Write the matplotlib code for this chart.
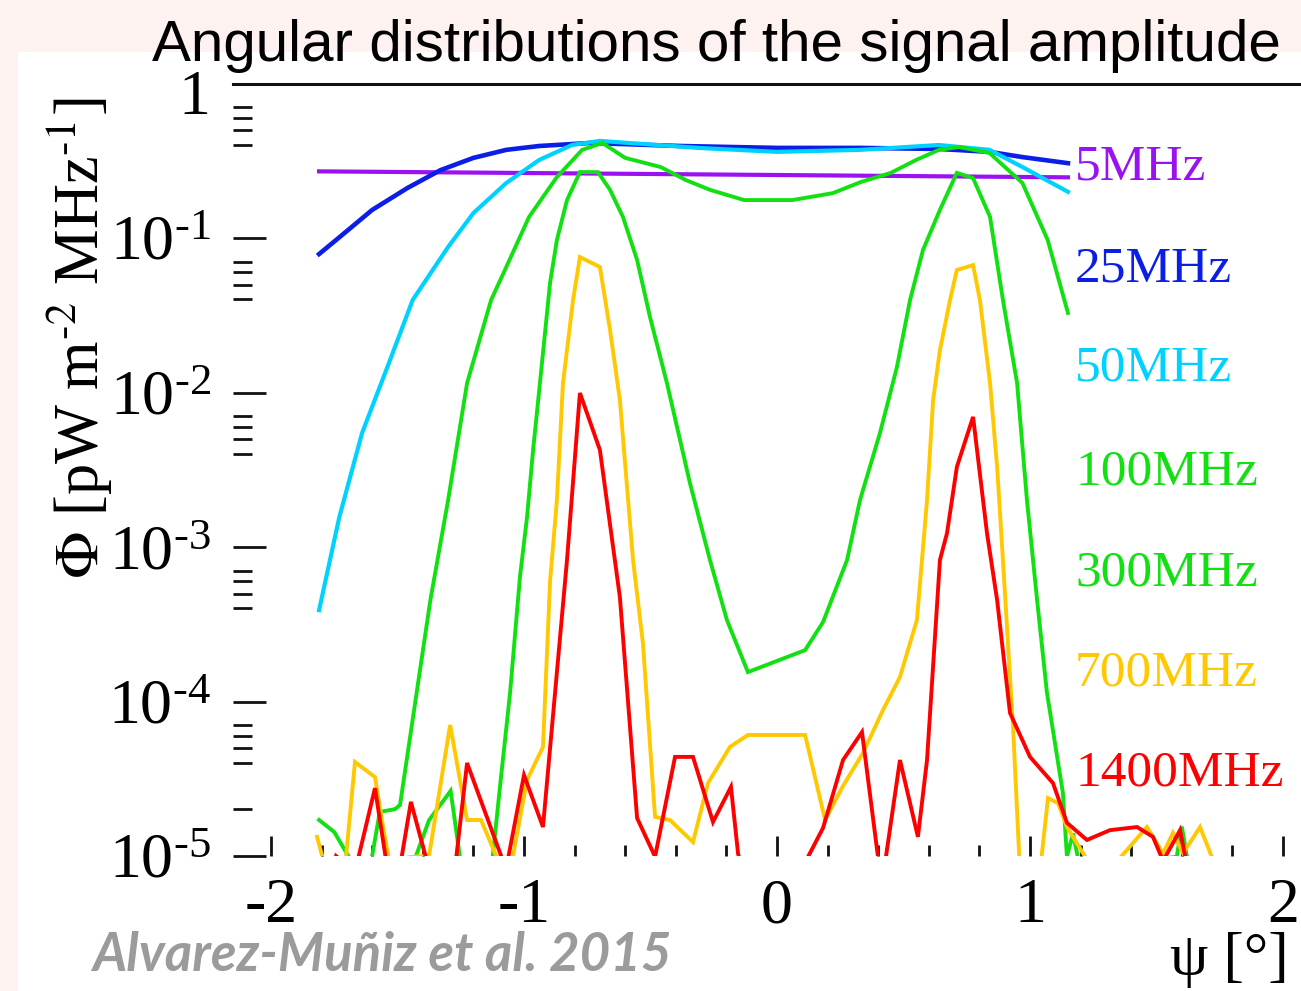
import matplotlib
matplotlib.use("Agg")
import matplotlib.pyplot as plt
from matplotlib.patches import Rectangle
from matplotlib.ticker import NullFormatter
from matplotlib.transforms import ScaledTranslation

# ---------------------------------------------------------------- data
# angle psi [deg] and flux Phi [pW m^-2 MHz^-1] for each frequency

psi_5 = [-1.81, 1.15]
phi_5 = [0.270, 0.247]

psi_25 = [-1.81, -1.73, -1.60, -1.46, -1.33, -1.20, -1.07, -0.94, -0.74,
          -0.38, 0.00, 0.33, 0.64, 0.84, 0.97, 1.15]
phi_25 = [0.0787, 0.101, 0.152, 0.211, 0.275, 0.330, 0.372, 0.394, 0.412,
          0.394, 0.383, 0.383, 0.377, 0.361, 0.334, 0.305]

psi_50 = [-1.81, -1.73, -1.64, -1.54, -1.44, -1.30, -1.20, -1.07, -0.94,
          -0.81, -0.70, -0.30, 0.00, 0.33, 0.64, 0.84, 0.97, 1.15]
phi_50 = [3.9e-4, 1.56e-3, 5.47e-3, 1.46e-2, 3.97e-2, 8.75e-2, 0.145, 0.227,
          0.320, 0.400, 0.425, 0.382, 0.361, 0.372, 0.400, 0.372, 0.288, 0.199]

psi_100 = [-1.81, -1.75, -1.68, -1.61, -1.57, -1.51, -1.49, -1.37, -1.30,
           -1.225, -1.13, -1.07, -0.98, -0.87, -0.77, -0.69, -0.60, -0.46,
           -0.36, -0.265, -0.13, 0.06, 0.22, 0.33, 0.45, 0.55, 0.64, 0.72,
           0.84, 0.97, 1.07, 1.15]
phi_100 = [1.71e-5, 1.43e-5, 9.1e-6, 8.1e-6, 1.93e-5, 2.01e-5, 2.14e-5,
           4.54e-4, 2.01e-3, 1.15e-2, 3.97e-2, 6.49e-2, 0.137, 0.248, 0.372,
           0.412, 0.330, 0.288, 0.237, 0.205, 0.176, 0.176, 0.195, 0.230,
           0.264, 0.320, 0.372, 0.388, 0.355, 0.227, 0.0970, 0.0327]

psi_300 = [-1.81, -1.61, -1.45, -1.375, -1.29, -1.245, -1.17, -1.13, -1.095,
           -1.055, -1.016, -0.988, -0.964, -0.937, -0.897, -0.870, -0.830,
           -0.779, -0.708, -0.660, -0.609, -0.553, -0.502, -0.435, -0.344,
           -0.265, -0.198, -0.115, 0.111, 0.182, 0.277, 0.328, 0.407, 0.474,
           0.526, 0.577, 0.644, 0.711, 0.775, 0.842, 0.893, 0.949, 0.988,
           1.028, 1.067, 1.130, 1.146, 1.17, 1.20, 1.58, 1.60, 1.63]
phi_300 = [5.2e-6, 5.2e-6, 7.9e-6, 1.71e-5, 2.64e-5, 7.9e-6, 6.9e-6, 7.9e-6,
           2.80e-5, 1.14e-4, 6.40e-4, 1.56e-3, 4.25e-3, 1.15e-2, 5.12e-2,
           9.70e-2, 0.176, 0.267, 0.267, 0.205, 0.137, 7.21e-2, 3.08e-2,
           1.15e-2, 2.59e-3, 8.24e-4, 3.37e-4, 1.55e-4, 2.15e-4, 3.27e-4,
           8.24e-4, 2.01e-3, 5.47e-3, 1.46e-2, 3.97e-2, 8.36e-2, 0.152, 0.264,
           0.244, 0.137, 3.97e-2, 1.15e-2, 2.01e-3, 4.54e-4, 1.14e-4, 2.56e-5,
           9.9e-6, 1.4e-5, 8.0e-6, 9.9e-6, 1.55e-5, 8.0e-6]

psi_700 = [-1.818, -1.791, -1.708, -1.668, -1.589, -1.557, -1.530, -1.502,
           -1.458, -1.375, -1.292, -1.225, -1.170, -1.111, -1.055, -0.988,
           -0.925, -0.897, -0.870, -0.846, -0.806, -0.779, -0.700, -0.660,
           -0.621, -0.569, -0.530, -0.482, -0.423, -0.332, -0.273, -0.186,
           -0.115, 0.111, 0.190, 0.261, 0.340, 0.419, 0.486, 0.553, 0.593,
           0.617, 0.644, 0.684, 0.711, 0.775, 0.802, 0.842, 0.870, 0.893,
           0.933, 0.960, 1.040, 1.071, 1.111, 1.146, 1.277, 1.462, 1.526,
           1.565, 1.605, 1.672, 1.739]
phi_700 = [1.33e-5, 9.1e-6, 8.3e-6, 4.06e-5, 3.24e-5, 1.54e-5, 8.7e-6, 7.9e-6,
           9.8e-6, 1.01e-5, 7.05e-5, 1.71e-5, 1.71e-5, 1.01e-5, 7.9e-6,
           3.10e-5, 5.08e-5, 6.0e-4, 2.01e-3, 1.15e-2, 3.97e-2, 7.53e-2,
           6.49e-2, 2.54e-2, 8.93e-3, 8.24e-4, 2.39e-4, 1.79e-5, 1.71e-5,
           1.23e-5, 2.96e-5, 5.08e-5, 6.07e-5, 6.07e-5, 1.71e-5, 2.84e-5,
           4.65e-5, 8.81e-5, 1.44e-4, 3.37e-4, 2.01e-3, 8.93e-3, 1.88e-2,
           3.97e-2, 6.21e-2, 6.68e-2, 3.97e-2, 1.15e-2, 3.30e-3, 8.24e-4,
           6.84e-5, 8.1e-6, 8.1e-6, 2.37e-5, 2.20e-5, 1.54e-5, 6.9e-6, 1.54e-5,
           1.04e-5, 1.41e-5, 1.04e-5, 1.54e-5, 8.1e-6]

psi_1400 = [-1.814, -1.763, -1.743, -1.668, -1.589, -1.542, -1.502, -1.447,
            -1.375, -1.281, -1.225, -1.071, -1.000, -0.925, -0.830, -0.779,
            -0.700, -0.621, -0.553, -0.482, -0.403, -0.332, -0.253, -0.182,
            -0.154, -0.107, 0.071, 0.123, 0.182, 0.261, 0.336, 0.399, 0.423,
            0.486, 0.557, 0.593, 0.644, 0.672, 0.711, 0.775, 0.830, 0.870,
            0.921, 1.000, 1.091, 1.146, 1.225, 1.316, 1.423, 1.486, 1.526,
            1.593, 1.632]
phi_1400 = [6.9e-6, 7.9e-6, 1.0e-5, 7.9e-6, 2.75e-5, 8.7e-6, 6.5e-6, 2.24e-5,
            8.2e-6, 6.3e-6, 4.00e-5, 8.2e-6, 3.34e-5, 1.54e-5, 8.24e-4,
            9.93e-3, 4.25e-3, 4.74e-4, 1.76e-5, 9.9e-6, 4.38e-5, 4.38e-5,
            1.66e-5, 2.80e-5, 1.04e-5, 5.1e-6, 5.1e-6, 9.9e-6, 1.52e-5,
            4.18e-5, 6.34e-5, 9.9e-6, 8.1e-6, 4.18e-5, 1.33e-5, 4.18e-5,
            8.24e-4, 1.23e-3, 3.30e-3, 6.95e-3, 1.23e-3, 4.54e-4, 8.43e-5,
            4.38e-5, 2.96e-5, 1.64e-5, 1.27e-5, 1.47e-5, 1.54e-5, 1.33e-5,
            9.3e-6, 1.47e-5, 6.9e-6]

series_labels = ["5MHz", "25MHz", "50MHz", "100MHz", "300MHz", "700MHz", "1400MHz"]
series_colors = ["#9a12f2", "#0a1ee8", "#00d2ff", "#12e012", "#12e012",
                 "#ffc800", "#ff0000"]

x_tick_values = [-2, -1, 0, 1, 2]
x_tick_labels = ["-2", "-1", "0", "1", "2"]
y_tick_values = [1e-5, 1e-4, 1e-3, 1e-2, 1e-1, 1]
y_tick_labels = ["$\\mathregular{10^{\u20105}}$", "$\\mathregular{10^{\u20104}}$",
                 "$\\mathregular{10^{\u20103}}$", "$\\mathregular{10^{\u20102}}$",
                 "$\\mathregular{10^{\u20101}}$", "1"]

# ---------------------------------------------------------------- style
W, H = 1301, 991
plt.rcParams["font.family"] = ["Liberation Serif", "DejaVu Serif"]
plt.rcParams["mathtext.fontset"] = "stix"


def fx(px):
    return px / W


def fy(py):
    return 1 - py / H


fig = plt.figure(figsize=(W / 100, H / 100), dpi=100)
fig.patch.set_facecolor("#fdf2ef")
fig.patches.append(Rectangle((fx(18), 0), 1, fy(52), transform=fig.transFigure,
                             facecolor="white", edgecolor="none", zorder=-10))

ax = fig.add_axes([fx(233), fy(856), 1 - fx(233), fy(83.5) - fy(856)])
ax.set_facecolor("white")
ax.set_zorder(2)

curves = [(psi_5, phi_5), (psi_25, phi_25), (psi_50, phi_50),
          (psi_100, phi_100), (psi_300, phi_300), (psi_700, phi_700),
          (psi_1400, phi_1400)]
widths = [3.0, 3.3, 3.0, 2.8, 2.8, 2.8, 2.8]
for (xs, ys), c, w in zip(curves, series_colors, widths):
    ax.plot(xs, ys, color=c, lw=w, solid_joinstyle="miter")

ax.set_yscale("log")
ax.set_xlim((233 - 777) / 253, (1301 - 777) / 253)
ax.set_ylim(1e-5, 1)

for side in ("left", "right", "bottom"):
    ax.spines[side].set_visible(False)
ax.spines["top"].set_linewidth(2.2)
ax.spines["top"].set_color("#111111")

ax.set_xticks(x_tick_values)
ax.set_xticklabels(x_tick_labels)
ax.set_xticks([v / 10 for v in range(-20, 21, 2) if v % 10 != 0], minor=True)
ax.set_yticks(y_tick_values)
ax.set_yticklabels(y_tick_labels)
y_minor = [m * 10.0 ** e for e in range(-5, 0) for m in (4, 5, 6, 7)] + [2e-5]
ax.set_yticks(y_minor, minor=True)
ax.yaxis.set_minor_formatter(NullFormatter())
ax.xaxis.set_ticks_position("bottom")
ax.yaxis.set_ticks_position("left")

ax.tick_params(axis="x", which="major", direction="in", length=14.4, width=2,
               pad=16, labelsize=46, color="#111111")
ax.tick_params(axis="x", which="minor", direction="in", length=8, width=2,
               color="#111111")
ax.tick_params(axis="y", which="major", direction="in", length=24, width=2,
               pad=16, labelsize=46, color="#111111")
ax.tick_params(axis="y", which="minor", direction="in", length=13.5, width=2,
               color="#111111")

# the "1" label sits a little below its tick, clear of the title
top_label = ax.yaxis.get_major_ticks()[-1].label1
top_label.set_transform(top_label.get_transform()
                        + ScaledTranslation(0, -9 / 100, fig.dpi_scale_trans))

# frequency labels at the right
label_baselines = [180, 282, 380, 484, 585, 685, 785]
for txt, c, b in zip(series_labels, series_colors, label_baselines):
    fig.text(fx(1075), fy(b), txt, color=c, fontsize=37, va="baseline",
             ha="left", zorder=3)

fig.text(fx(152), fy(61), "Angular distributions of the signal amplitude",
         family="Liberation Sans", fontsize=42, va="baseline", ha="left",
         zorder=3)
fig.text(fx(80), fy(338), "$\\Phi$ [pW m$^{\u20102}$ MHz$^{\u20101}$]",
         rotation=90, fontsize=45, va="center", ha="center")
fig.text(fx(1170), fy(975), "ψ [°]", fontsize=44, va="baseline", ha="left")
fig.text(fx(92), fy(971), "Alvarez-Muñiz et al. 2015", color="#9b9b9b",
         family="Lato", fontweight="bold", fontstyle="italic", fontsize=38,
         va="baseline", ha="left")

fig.savefig("out.png", dpi=100, facecolor=fig.get_facecolor())
